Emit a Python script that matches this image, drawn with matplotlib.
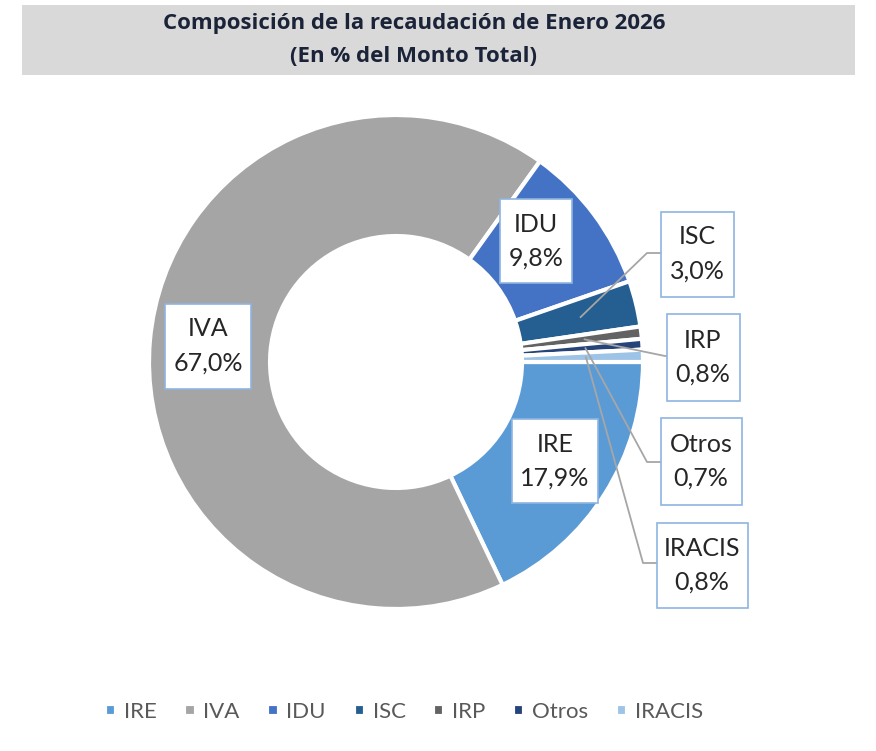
import matplotlib.pyplot as plt
import numpy as np
from matplotlib.patches import Rectangle

# datos
categorias = ["IRE", "IVA", "IDU", "ISC", "IRP", "Otros", "IRACIS"]
valores = [17.9, 67.0, 9.8, 3.0, 0.8, 0.7, 0.8]
etiquetas = ["17,9%", "67,0%", "9,8%", "3,0%", "0,8%", "0,7%", "0,8%"]
colores = ["#5B9BD5", "#A5A5A5", "#4472C4", "#255E91", "#636363", "#264478", "#9DC3E6"]

W, H = 876, 751
fig = plt.figure(figsize=(W / 100, H / 100), dpi=100)
ax = fig.add_axes([0, 0, 1, 1])

cx, cy = 396, H - 362
R = 247

wedges, _ = ax.pie(valores, colors=colores, startangle=0, counterclock=False,
                   center=(cx, cy), radius=R,
                   wedgeprops=dict(width=R * 0.49, edgecolor="white", linewidth=3))
ax.set_xlim(0, W)
ax.set_ylim(0, H)
ax.set_aspect("equal")
ax.axis("off")

# cajas de etiquetas (centro en px, y desde arriba)
cajas = {
    "IVA": (208, 346, 86, 85),
    "IDU": (536, 241, 72, 84),
    "IRE": (555, 461, 86, 84),
    "ISC": (697, 254, 73, 85),
    "IRP": (703, 357, 73, 87),
    "Otros": (701, 461, 81, 87),
    "IRACIS": (702, 565, 91, 85),
}
con_guia = {"ISC": (647, 253), "IRP": (665, 356), "Otros": (647, 462), "IRACIS": (643, 563)}

fuente = "Lato"
for i, cat in enumerate(categorias):
    bx, by, bw, bh = cajas[cat]
    yb = H - by
    if cat in con_guia:
        w = wedges[i]
        ang = np.deg2rad((w.theta1 + w.theta2) / 2)
        px = cx + 190 * np.cos(ang)
        py = cy + 190 * np.sin(ang)
        kx, ky = con_guia[cat]
        ax.plot([px, kx, bx - bw / 2], [py, H - ky, H - ky], color="#A6A6A6", lw=1.3, zorder=3)
    ax.add_patch(Rectangle((bx - bw / 2, yb - bh / 2), bw, bh, facecolor="white",
                           edgecolor="#8DB4E2", lw=1.2, zorder=4))
    ax.text(bx, yb + 17, cat, ha="center", va="center", fontsize=18,
            family=fuente, color="#262626", zorder=5)
    ax.text(bx, yb - 17, etiquetas[i], ha="center", va="center", fontsize=18,
            family=fuente, color="#262626", zorder=5)

# titulo
fig.patches.append(Rectangle((22 / W, 1 - 75 / H), (855 - 22) / W, 70 / H,
                             transform=fig.transFigure, facecolor="#D9D9D9",
                             edgecolor="none", zorder=0))
fig.text(414 / W, 1 - 23 / H, "Composición de la recaudación de Enero 2026",
         ha="center", va="center", fontsize=16, fontweight="bold",
         family="Open Sans", color="#1B2338")
fig.text(414 / W, 1 - 57 / H, "(En % del Monto Total)",
         ha="center", va="center", fontsize=16, fontweight="bold",
         family="Open Sans", color="#1B2338")

leg = ax.legend(wedges, categorias, loc="center", bbox_to_anchor=(404 / W, 1 - 712 / H),
                ncol=7, frameon=False, handlelength=0.5, handleheight=0.5,
                handletextpad=0.35, columnspacing=1.25,
                prop=dict(family=fuente, size=16))
for t in leg.get_texts():
    t.set_color("#595959")

fig.savefig("out.png", dpi=100)
